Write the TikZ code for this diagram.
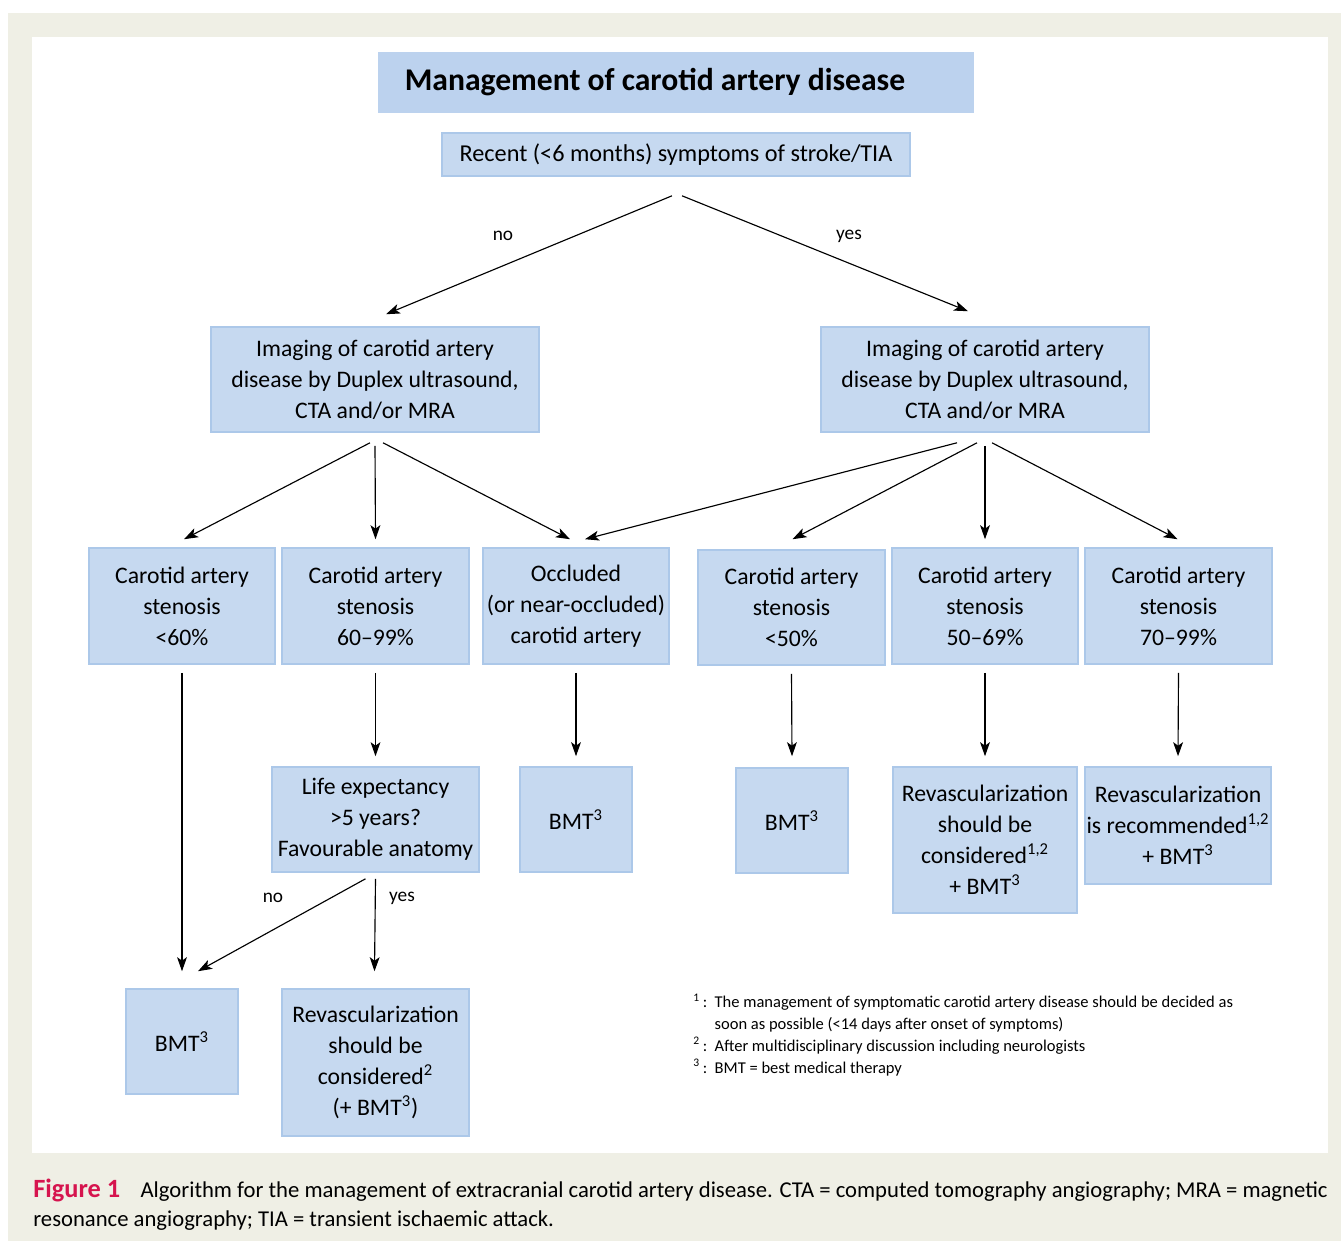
\documentclass[tikz,border=0pt]{standalone}
\usepackage{fontspec}
\setmainfont{Carlito}
\usepackage{tikz}
\usepackage{xcolor}
\usetikzlibrary{arrows.meta,calc}

\definecolor{cream}{RGB}{239,239,229}
\definecolor{boxfill}{RGB}{198,217,240}
\definecolor{boxline}{RGB}{172,200,233}
\definecolor{titlefill}{RGB}{188,210,238}
\definecolor{figred}{RGB}{214,20,78}
\newcommand{\boxfont}{\fontsize{13.5}{17.6}\selectfont}

\begin{document}
\begin{tikzpicture}[x=0.02cm,y=-0.02cm]
      \useasboundingbox(0,0) rectangle (1341,1241);
      \tikzset{B/.style = {shape=rectangle, draw=boxline, fill=boxfill, line width=0.9pt, inner sep=0pt, align=center, text=black, font=\boxfont}}
      \tikzset{E/.style = {draw, line width=0.65pt, -{Stealth[length=8pt,width=5.6pt,inset=2pt]}}}
      \tikzset{L/.style = {font=\fontsize{11}{13}\selectfont, inner sep=0pt}}
      % background
      \fill[cream] (8,13) rectangle (1341,1241);
      \fill[white] (32,37) rectangle (1328,1153);
      \node[B,fill=titlefill,draw=titlefill,minimum width=11.88cm,minimum height=1.18cm,font=\fontsize{18}{21}\selectfont\bfseries](title) at (676,82.5) {Management of carotid artery disease\hspace*{0.84cm}};
      \node[B,minimum width=9.36cm,minimum height=0.86cm,font=\fontsize{13.8}{17.6}\selectfont](recent) at (676,154.5) {Recent (<6 months) symptoms of stroke/TIA};
      \node[B,minimum width=6.56cm,minimum height=2.1cm](imgL) at (375,379.5) {Imaging of carotid artery\\disease by Duplex ultrasound,\\CTA and/or MRA};
      \node[B,minimum width=6.56cm,minimum height=2.1cm](imgR) at (985,379.5) {Imaging of carotid artery\\disease by Duplex ultrasound,\\CTA and/or MRA};
      \node[B,minimum width=3.72cm,minimum height=2.32cm](c60) at (182,606) {Carotid artery\\stenosis\\<60\%};
      \node[B,minimum width=3.74cm,minimum height=2.32cm](c6099) at (375.5,606) {Carotid artery\\stenosis\\60--99\%};
      \node[B,minimum width=3.72cm,minimum height=2.32cm](occ) at (576,606) {Occluded\\(or near-occluded)\\carotid artery};
      \node[B,minimum width=3.74cm,minimum height=2.3cm](c50) at (791.5,607.5) {Carotid artery\\stenosis\\<50\%};
      \node[B,minimum width=3.72cm,minimum height=2.32cm](c5069) at (985,606) {Carotid artery\\stenosis\\50--69\%};
      \node[B,minimum width=3.74cm,minimum height=2.32cm](c7099) at (1178.5,606) {Carotid artery\\stenosis\\70--99\%};
      \node[B,minimum width=4.14cm,minimum height=2.1cm](life) at (375.5,819.5) {Life expectancy\\>5 years?\\Favourable anatomy};
      \node[B,minimum width=2.24cm,minimum height=2.1cm](bmtO) at (576,819.5) {BMT\textsuperscript{3}};
      \node[B,minimum width=2.24cm,minimum height=2.1cm](bmtC) at (792,820.5) {BMT\textsuperscript{3}};
      \node[B,minimum width=3.68cm,minimum height=2.92cm](rev5069) at (985,840) {Revascularization\\should be\\considered\textsuperscript{1,2}\\+ BMT\textsuperscript{3}};
      \node[B,minimum width=3.72cm,minimum height=2.34cm](rev7099) at (1178,825.5) {Revascularization\\is recommended\textsuperscript{1,2}\\+ BMT\textsuperscript{3}};
      \node[B,minimum width=2.24cm,minimum height=2.1cm](bmtL) at (182,1041.5) {BMT\textsuperscript{3}};
      \node[B,minimum width=3.74cm,minimum height=2.94cm](revL) at (375.5,1062.5) {Revascularization\\should be\\considered\textsuperscript{2}\\(+ BMT\textsuperscript{3})};
      % labels
      \node[L](no1) at (503,236) {no};
      \node[L](yes1) at (849,236) {yes};
      \node[L](no2) at (273,898) {no};
      \node[L](yes2) at (402,898) {yes};
      % arrows
      \draw[E]($(recent.south)+(-4,19)$) to ($(imgL.north)+(11,-12)$);
      \draw[E]($(recent.south)+(6,19)$) to ($(imgR.north)+(-17,-15)$);
      \draw[E]($(imgL.south)+(-5,10)$) to ($(c60.north)+(2,-8)$);
      \draw[E]($(imgL.south)+(0,13)$) to ($(c6099.north)+(0,-8)$);
      \draw[E]($(imgL.south)+(8,10)$) to ($(occ.north)+(-6,-8)$);
      \draw[E]($(imgR.south)+(-28,10)$) to ($(occ.north)+(9,-8)$);
      \draw[E]($(imgR.south)+(-8,10)$) to ($(c50.north)+(1,-10)$);
      \draw[E]($(imgR.south)+(0,13)$) to ($(c5069.north)+(0,-8)$);
      \draw[E]($(imgR.south)+(7,10)$) to ($(c7099.north)+(-1,-8)$);
      \draw[E]($(c60.south)+(0,8)$) to ($(bmtL.north)+(0,-17)$);
      \draw[E]($(c6099.south)+(0,8)$) to ($(life.north)+(0,-10)$);
      \draw[E]($(occ.south)+(0,8)$) to ($(bmtO.north)+(0,-10)$);
      \draw[E]($(c50.south)+(0,8)$) to ($(bmtC.north)+(0,-11)$);
      \draw[E]($(c5069.south)+(0,8)$) to ($(rev5069.north)+(0,-10)$);
      \draw[E]($(c7099.south)+(0,8)$) to ($(rev7099.north)+(0,-10)$);
      \draw[E]($(life.south)+(-10,6)$) to ($(bmtL.north)+(16,-17)$);
      \draw[E]($(life.south)+(0,6)$) to ($(revL.north)+(-1,-17)$);
      % footnotes
      \node[anchor=north west,inner sep=0pt,font=\fontsize{9.4}{12.5}\selectfont](notes) at (693,992) {%
        \begin{tabular}{@{}r@{\hspace{0.45em}}l@{}}
        \textsuperscript{1}\,: & The management of symptomatic carotid artery disease should be decided as\\
         & soon as possible (<14 days after onset of symptoms)\\
        \textsuperscript{2}\,: & After multidisciplinary discussion including neurologists\\
        \textsuperscript{3}\,: & BMT = best medical therapy
        \end{tabular}};
      % caption
      \node[anchor=north west,inner sep=0pt,align=left,font=\fontsize{12.9}{16.4}\selectfont](caption) at (33,1179) {%
        {\color{figred}\bfseries\fontsize{15}{16.4}\selectfont Figure 1}\hspace{0.9em}Algorithm for the management of extracranial carotid artery disease. CTA = computed tomography angiography; MRA = magnetic\\
        resonance angiography; TIA = transient ischaemic attack.};
    \end{tikzpicture}
\end{document}
